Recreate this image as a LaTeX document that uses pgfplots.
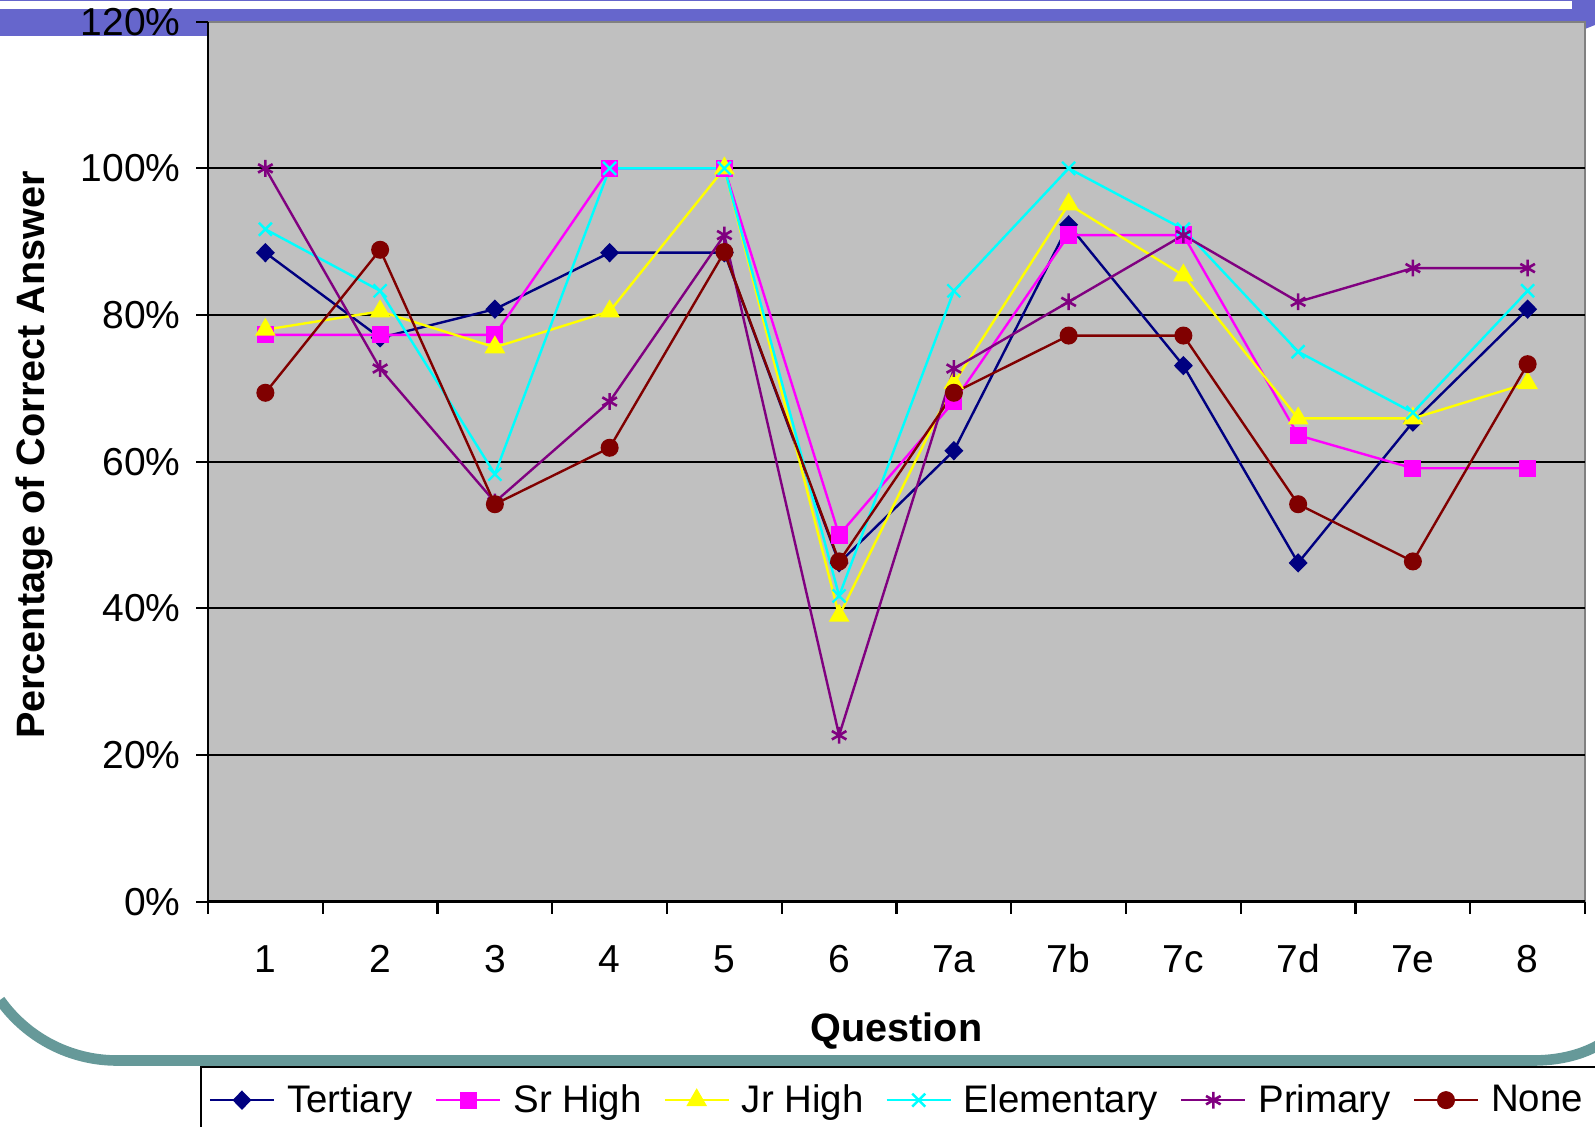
\documentclass[border=0pt]{standalone}
\usepackage{fontspec}
\setmainfont{Liberation Sans}
\usepackage{pgfplots}
\pgfplotsset{compat=1.18}
\definecolor{plotbg}{RGB}{192,192,192}
\definecolor{barblue}{RGB}{102,102,204}
\definecolor{decoteal}{RGB}{102,153,153}
\definecolor{cTer}{RGB}{0,0,128}
\definecolor{cSr}{RGB}{255,0,255}
\definecolor{cJr}{RGB}{255,255,0}
\definecolor{cEl}{RGB}{0,255,255}
\definecolor{cPr}{RGB}{128,0,128}
\definecolor{cNo}{RGB}{128,0,0}
\begin{document}
\begin{tikzpicture}
\useasboundingbox (0,0) rectangle (797.5pt,-563.5pt);
\begin{scope}[x=0.5pt,y=-0.5pt]
\fill[barblue] (0,0) -- (1595,0) -- (1595,25) -- (1585,29) -- (1585,36) -- (0,36) -- cycle;
\fill[white] (0,1.2) rectangle (1572,9);
\draw[decoteal, line width=5.3pt] (0,1000) .. controls (27,1038) and (70.5,1060.5) .. (117,1060.5) -- (1533,1060.5) .. controls (1565,1060.5) and (1592,1052) .. (1612,1036);
\end{scope}
\begin{axis}[
  at={(104pt,-450.85pt)}, anchor=south west,
  scale only axis, width=688.5pt, height=440pt,
  xmin=0.5, xmax=12.5, ymin=0, ymax=120,
  axis background/.style={fill=plotbg, draw=gray, line width=1pt},
  axis x line*=bottom, axis y line*=left,
  axis line style={black, line width=1.4pt},
  tick align=outside,
  major tick length=6pt, minor tick length=6pt,
  tick style={black, line width=1.1pt},
  xtick={1,...,12},
  xticklabels={1,2,3,4,5,6,7a,7b,7c,7d,7e,8},
  minor xtick={0.5,1.5,...,12.5},
  major x tick style={draw=none},
  ytick={20,40,60,80,100},
  yticklabels={20\%,40\%,60\%,80\%,100\%},
  extra y ticks={0,120},
  extra y tick labels={0\%,120\%},
  extra y tick style={grid=none},
  ymajorgrids,
  major grid style={black, line width=1.1pt},
  ticklabel style={font=\fontsize{19.5}{23}\selectfont},
  xticklabel style={text height=14.3pt, text depth=0pt, yshift=-11.5pt},
  yticklabel style={xshift=-4.25pt},
  xlabel={Question},
  ylabel={Percentage of Correct Answer},
  label style={font=\fontsize{19.8}{24}\selectfont\bfseries},
  xlabel style={at={(axis description cs:0.5,-0.147)}, anchor=center},
  ylabel style={at={(axis description cs:-0.1264,0.5076)}, anchor=center},
  legend columns=6,
  legend style={at={(axis description cs:-0.0058,-0.1867)}, anchor=north west,
    draw=black, line width=0.75pt, fill=white,
    font=\fontsize{19.2}{23}\selectfont,
    inner xsep=4pt, inner ysep=6pt,
    nodes={inner xsep=6pt, inner ysep=3pt},
    /tikz/every even column/.append style={column sep=5pt}},
  legend image code/.code={\draw[mark repeat=2,mark phase=2,#1] plot coordinates {(0pt,0pt) (16pt,0pt) (32pt,0pt)};},
]
\addplot[color=cTer, line width=1.2pt, mark=diamond*, mark size=4pt, mark options={solid, fill=cTer, xscale=1.3}]
  coordinates {(1,88.5) (2,76.9) (3,80.8) (4,88.5) (5,88.5) (6,46.2) (7,61.5) (8,92.3) (9,73.1) (10,46.2) (11,65.4) (12,80.8)};
\addlegendentry{Tertiary}
\addplot[color=cSr, line width=1.2pt, mark=square*, mark size=3.7pt, mark options={solid, fill=cSr}]
  coordinates {(1,77.3) (2,77.3) (3,77.3) (4,100) (5,100) (6,50.0) (7,68.2) (8,90.9) (9,90.9) (10,63.6) (11,59.1) (12,59.1)};
\addlegendentry{Sr High}
\addplot[color=cJr, line width=1.2pt, mark=triangle*, mark size=4.8pt, mark options={solid, fill=cJr}]
  coordinates {(1,78.0) (2,80.5) (3,75.6) (4,80.5) (5,100) (6,39.0) (7,70.7) (8,95.1) (9,85.4) (10,65.9) (11,65.9) (12,70.7)};
\addlegendentry{Jr High}
\addplot[color=cEl, line width=1.2pt, mark=x, mark size=4.6pt, mark options={solid, line width=1.2pt}]
  coordinates {(1,91.7) (2,83.3) (3,58.3) (4,100) (5,100) (6,41.7) (7,83.3) (8,100) (9,91.7) (10,75.0) (11,66.7) (12,83.3)};
\addlegendentry{Elementary}
\addplot[color=cPr, line width=1.2pt, mark=asterisk, mark size=4.2pt, mark options={solid, line width=1.3pt}]
  coordinates {(1,100) (2,72.7) (3,54.5) (4,68.2) (5,90.9) (6,22.7) (7,72.7) (8,81.8) (9,90.9) (10,81.8) (11,86.4) (12,86.4)};
\addlegendentry{Primary}
\addplot[color=cNo, line width=1.2pt, mark=*, mark size=3.9pt, mark options={solid, fill=cNo}]
  coordinates {(1,69.4) (2,88.9) (3,54.2) (4,61.9) (5,88.6) (6,46.4) (7,69.4) (8,77.2) (9,77.2) (10,54.2) (11,46.4) (12,73.3)};
\addlegendentry{None}
\end{axis}
\end{tikzpicture}
\end{document}
